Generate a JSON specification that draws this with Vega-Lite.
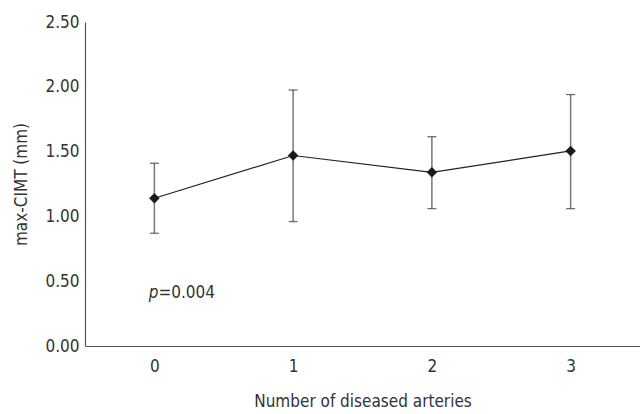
{
  "$schema": "https://vega.github.io/schema/vega-lite/v6.json",
  "width": 555,
  "height": 324,
  "autosize": {"type": "none"},
  "padding": {"left": 85, "top": 22, "right": 0, "bottom": 68},
  "config": {
    "view": {"stroke": null},
    "font": "'DejaVu Sans Condensed', Roboto, sans-serif",
    "axis": {
      "domainColor": "#555555",
      "domainWidth": 1.2,
      "ticks": false,
      "grid": false,
      "labelFont": "'DejaVu Sans Condensed', Roboto, sans-serif",
      "titleFont": "'DejaVu Sans Condensed', Roboto, sans-serif",
      "labelFontSize": 17,
      "titleFontSize": 17,
      "labelColor": "#333333",
      "titleColor": "#333333",
      "titleFontWeight": "normal"
    }
  },
  "datasets": {
    "main": [
      {"arteries": "0", "mean": 1.14, "lo": 0.87, "hi": 1.41},
      {"arteries": "1", "mean": 1.47, "lo": 0.96, "hi": 1.975},
      {"arteries": "2", "mean": 1.34, "lo": 1.06, "hi": 1.615},
      {"arteries": "3", "mean": 1.505, "lo": 1.06, "hi": 1.94}
    ],
    "note": [
      {"arteries": "0", "y": 0.41, "p": "p", "rest": "=0.004"}
    ]
  },
  "encoding": {
    "x": {
      "field": "arteries",
      "type": "ordinal",
      "scale": {"type": "point", "padding": 0.5},
      "axis": {"title": "Number of diseased arteries", "labelAngle": 0, "labelPadding": 12, "titlePadding": 19}
    }
  },
  "layer": [
    {
      "data": {"name": "main"},
      "mark": {"type": "rule", "color": "#777777", "strokeWidth": 1.5},
      "encoding": {
        "y": {
          "field": "lo",
          "type": "quantitative",
          "scale": {"domain": [0, 2.5], "nice": false},
          "axis": {"title": "max-CIMT (mm)", "values": [0, 0.5, 1, 1.5, 2, 2.5], "format": ".2f", "labelPadding": 6, "titlePadding": 14}
        },
        "y2": {"field": "hi"}
      }
    },
    {
      "data": {"name": "main"},
      "mark": {"type": "tick", "color": "#333333", "size": 9, "thickness": 1.3, "orient": "horizontal"},
      "encoding": {"y": {"field": "lo", "type": "quantitative"}}
    },
    {
      "data": {"name": "main"},
      "mark": {"type": "tick", "color": "#333333", "size": 9, "thickness": 1.3, "orient": "horizontal"},
      "encoding": {"y": {"field": "hi", "type": "quantitative"}}
    },
    {
      "data": {"name": "main"},
      "mark": {"type": "line", "color": "#222222", "strokeWidth": 1.2},
      "encoding": {"y": {"field": "mean", "type": "quantitative"}}
    },
    {
      "data": {"name": "main"},
      "mark": {"type": "point", "shape": "diamond", "filled": true, "color": "#1a1a1a", "size": 110, "opacity": 1},
      "encoding": {"y": {"field": "mean", "type": "quantitative"}}
    },
    {
      "data": {"name": "note"},
      "mark": {"type": "text", "align": "right", "baseline": "middle", "dx": 4, "fontSize": 17, "fontStyle": "italic", "color": "#333333"},
      "encoding": {"y": {"field": "y", "type": "quantitative"}, "text": {"field": "p"}}
    },
    {
      "data": {"name": "note"},
      "mark": {"type": "text", "align": "left", "baseline": "middle", "dx": 4, "fontSize": 17, "color": "#333333"},
      "encoding": {"y": {"field": "y", "type": "quantitative"}, "text": {"field": "rest"}}
    }
  ]
}
